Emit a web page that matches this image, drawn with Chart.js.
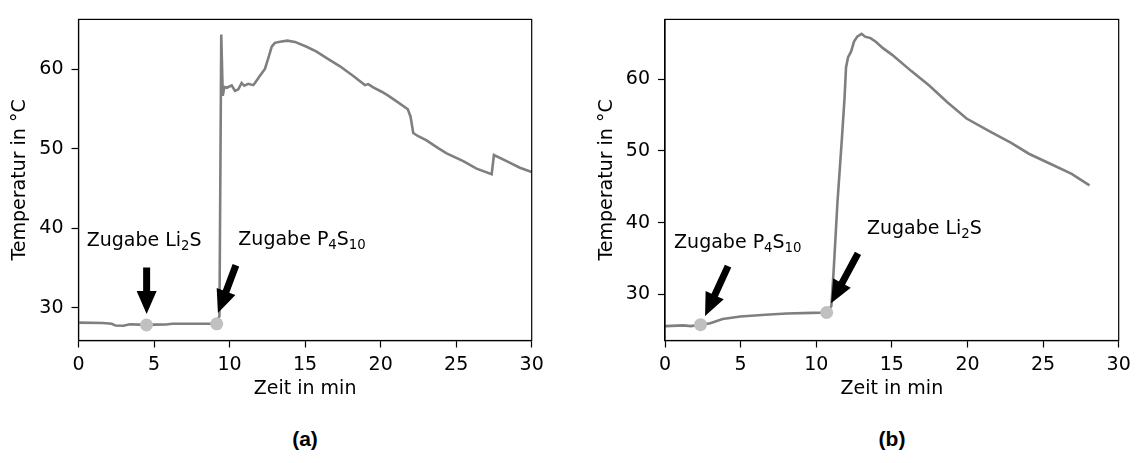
<!DOCTYPE html>
<html>
<head>
<meta charset="utf-8">
<script src="https://cdn.jsdelivr.net/npm/chart.js@4.4.0/dist/chart.umd.min.js"></script>
<style>
  body { margin: 0; background: #fff; width: 1138px; height: 463px; position: relative; overflow: hidden; }
  canvas { position: absolute; top: 0; }
  #chartA { left: 0; }
  #chartB { left: 569px; }
  .cap { position: absolute; top: 427px; width: 80px; line-height: 26px; text-align: center;
         font: bold 21px "Liberation Sans", Arial, sans-serif; color: #000; }
</style>
</head>
<body>
<canvas id="chartA" width="569" height="400"></canvas>
<canvas id="chartB" width="569" height="400"></canvas>
<div class="cap" style="left:265px">(a)</div>
<div class="cap" style="left:852px">(b)</div>
<script>
// (a): Li2S added first, then P4S10
const timeA = [0, 1.6, 2.2, 2.45, 2.97, 3.4, 4.0, 4.5, 5.0, 5.8, 6.2, 7.5, 9.15, 9.33, 9.45, 9.55, 9.65, 9.82,
  10.14, 10.36, 10.58, 10.8, 10.97, 11.24, 11.57, 11.68, 12.01, 12.34, 12.56, 12.79, 13.0, 13.34, 13.82, 14.33,
  15.1, 15.76, 16.43, 17.31, 18.19, 18.96, 19.18, 19.51, 20.07, 20.5, 21.06, 21.8, 21.98, 22.16, 22.49, 23.04,
  23.81, 24.37, 25.47, 26.35, 27.35, 27.5, 28.34, 29.22, 30];
const tempA = [28.15, 28.1, 28.0, 27.78, 27.75, 27.95, 27.9, 27.85, 27.9, 27.92, 28.0, 28.0, 28.0, 29.0, 64.4, 56.7, 57.8, 57.7,
  58.0, 57.3, 57.5, 58.3, 57.95, 58.2, 58.03, 58.3, 59.2, 60.07, 61.4, 62.86, 63.35, 63.5, 63.63, 63.47,
  62.86, 62.25, 61.42, 60.4, 59.18, 58.03, 58.16, 57.74, 57.2, 56.7, 55.98, 55.0, 54.06, 52.0, 51.6, 51.08,
  50.1, 49.44, 48.46, 47.52, 46.82, 49.24, 48.46, 47.64, 47.1];
const markTimeA = [4.5, 9.15];
const markTempA = [27.85, 28.0];

// (b): P4S10 added first, then Li2S
const timeB = [0, 1.22, 1.7, 2.35, 2.99, 3.81, 4.99, 6.64, 8.05, 9.7, 10.69, 11.0, 11.16, 11.4, 11.7, 11.87,
  11.97, 12.1, 12.3, 12.5, 12.71, 13.0, 13.23, 13.59, 13.94, 14.41, 15.0, 16.29, 17.47, 18.65, 19.94, 21.47,
  22.89, 24.06, 25.47, 26.89, 28.07];
const tempB = [25.6, 25.7, 25.6, 25.8, 26.0, 26.6, 26.95, 27.18, 27.36, 27.45, 27.5, 28.4, 33.6, 42.7, 51.8, 57.3,
  61.6, 63.0, 63.8, 65.2, 65.9, 66.3, 65.9, 65.7, 65.2, 64.3, 63.4, 61.1, 59.1, 56.8, 54.5, 52.7,
  51.1, 49.6, 48.2, 46.8, 45.2];
const markTimeB = [2.35, 10.69];
const markTempB = [25.8, 27.5];

const xTicks = [0, 5, 10, 15, 20, 25, 30];
const yTicks = [30, 40, 50, 60];

// annotation text (baseline start, data coords) and arrows (tail -> tip, data coords)
const notesA = [
  { at: [0.54, 37.76], parts: [['Zugabe Li'], ['2', 1], ['S']] },
  { at: [10.58, 37.9], parts: [['Zugabe P'], ['4', 1], ['S'], ['10', 1]] }
];
const arrowsA = [
  { from: [4.51, 35.1], to: [4.51, 29.23] },
  { from: [10.42, 35.36], to: [9.23, 29.35] }
];
const notesB = [
  { at: [0.6, 36.54], parts: [['Zugabe P'], ['4', 1], ['S'], ['10', 1]] },
  { at: [13.35, 38.44], parts: [['Zugabe Li'], ['2', 1], ['S']] }
];
const arrowsB = [
  { from: [4.17, 33.95], to: [2.65, 27.0] },
  { from: [12.76, 35.72], to: [10.98, 28.77] }
];

const FONT = "'DejaVu Sans', sans-serif";
const LINE = '#7f7f7f';
const MARK = '#c0c0c0';

function drawRich(ctx, x, y, parts) {
  ctx.textBaseline = 'alphabetic';
  ctx.textAlign = 'left';
  for (const [s, sub] of parts) {
    ctx.font = (sub ? 13.3 : 19) + 'px ' + FONT;
    ctx.fillText(s, x, y + (sub ? 4 : 0));
    x += ctx.measureText(s).width;
  }
}

function drawArrow(ctx, x1, y1, x2, y2) {
  const w = 7, hw = 20, hl = 23;
  const len = Math.hypot(x2 - x1, y2 - y1);
  const ux = (x2 - x1) / len, uy = (y2 - y1) / len;
  const nx = -uy, ny = ux;
  const bx = x2 - ux * hl, by = y2 - uy * hl;
  ctx.beginPath();
  ctx.moveTo(x1 + nx * w / 2, y1 + ny * w / 2);
  ctx.lineTo(bx + nx * w / 2, by + ny * w / 2);
  ctx.lineTo(bx + nx * hw / 2, by + ny * hw / 2);
  ctx.lineTo(x2, y2);
  ctx.lineTo(bx - nx * hw / 2, by - ny * hw / 2);
  ctx.lineTo(bx - nx * w / 2, by - ny * w / 2);
  ctx.lineTo(x1 - nx * w / 2, y1 - ny * w / 2);
  ctx.closePath();
  ctx.fillStyle = '#000';
  ctx.fill();
}

const extras = {
  id: 'extras',
  afterDatasetsDraw(chart, args, opts) {
    const { ctx, chartArea: a, scales: { x, y } } = chart;
    ctx.save();
    ctx.strokeStyle = '#000';
    ctx.lineWidth = 1.2;
    ctx.strokeRect(a.left, a.top, a.right - a.left, a.bottom - a.top);
    ctx.fillStyle = '#000';
    opts.notes.forEach(n => drawRich(ctx, x.getPixelForValue(n.at[0]), y.getPixelForValue(n.at[1]), n.parts));
    opts.arrows.forEach(ar => drawArrow(ctx,
      x.getPixelForValue(ar.from[0]), y.getPixelForValue(ar.from[1]),
      x.getPixelForValue(ar.to[0]), y.getPixelForValue(ar.to[1])));
    ctx.restore();
  }
};

function makeChart(id, times, temps, markT, markY, yMin, yMax, notes, arrows, yWidth, rightPad, titlePad) {
  const line = times.map((t, i) => ({ x: t, y: temps[i] }));
  const marks = markT.map((t, i) => ({ x: t, y: markY[i] }));
  return new Chart(document.getElementById(id), {
    type: 'scatter',
    data: {
      datasets: [
        { data: marks, pointRadius: 6.5, pointHoverRadius: 6.5, backgroundColor: MARK, borderWidth: 0 },
        { data: line, showLine: true, pointRadius: 0, borderColor: LINE, borderWidth: 2.6, tension: 0 }
      ]
    },
    options: {
      responsive: false,
      animation: false,
      devicePixelRatio: 1,
      layout: { padding: { left: 0, top: 13, right: rightPad, bottom: 0 } },
      plugins: { legend: { display: false }, tooltip: { enabled: false }, extras: { notes, arrows } },
      scales: {
        x: {
          type: 'linear', min: 0, max: 30,
          afterBuildTicks: s => { s.ticks = xTicks.map(v => ({ value: v })); },
          afterFit: s => { s.height = 59.5; },
          grid: { drawOnChartArea: false, drawTicks: true, tickLength: 7, tickWidth: 1.2, tickColor: '#000' },
          border: { display: true, color: '#000', width: 1.2 },
          ticks: { color: '#000', font: { family: FONT, size: 19 }, padding: 6, maxRotation: 0, autoSkip: false },
          title: { display: true, text: 'Zeit in min', color: '#000', font: { family: FONT, size: 19 }, padding: 0 }
        },
        y: {
          type: 'linear', min: yMin, max: yMax,
          afterBuildTicks: s => { s.ticks = yTicks.map(v => ({ value: v })); },
          afterFit: s => { s.width = yWidth; },
          grid: { drawOnChartArea: false, drawTicks: true, tickLength: 7, tickWidth: 1.2, tickColor: '#000' },
          border: { display: true, color: '#000', width: 1.2 },
          ticks: { color: '#000', font: { family: FONT, size: 19 }, padding: 8 },
          title: { display: true, text: 'Temperatur in °C', color: '#000', font: { family: FONT, size: 19 },
                   padding: { top: titlePad, bottom: 0 } }
        }
      }
    },
    plugins: [extras]
  });
}

makeChart('chartA', timeA, tempA, markTimeA, markTempA, 25.9, 66.3, notesA, arrowsA, 78.5, 37.3, 8.7);
makeChart('chartB', timeB, tempB, markTimeB, markTempB, 23.6, 68.3, notesB, arrowsB, 96, 19.3, 26.3);
</script>
</body>
</html>
